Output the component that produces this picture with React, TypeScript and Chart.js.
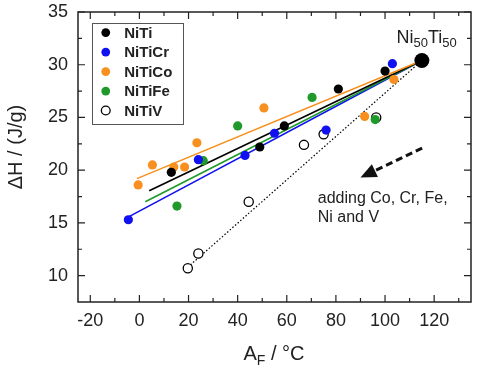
import React, { useEffect, useRef } from "react";
import { Chart, registerables } from "chart.js";
Chart.register(...registerables);

const xTickValues = [-20, 0, 20, 40, 60, 80, 100, 120];
const yTickValues = [10, 15, 20, 25, 30, 35];
const xMinorValues = [-10, 10, 30, 50, 70, 90, 110, 130];
const yMinorValues = [12.5, 17.5, 22.5, 27.5, 32.5];

const seriesNames = ["NiTi", "NiTiCr", "NiTiCo", "NiTiFe", "NiTiV"];
const seriesColors = ["#000000", "#1010f0", "#f7901e", "#1f9a2a", "#000000"];

const niTiX = [13, 49, 59, 81, 100];
const niTiY = [19.8, 22.2, 24.2, 27.7, 29.4];
const niTiCrX = [-4.5, 24, 43, 55, 76, 103];
const niTiCrY = [15.3, 21.0, 21.4, 23.5, 23.8, 30.1];
const niTiCoX = [-0.5, 5.3, 14, 18.4, 23.4, 50.7, 91.7, 103.6];
const niTiCoY = [18.6, 20.5, 20.3, 20.3, 22.6, 25.9, 25.1, 28.6];
const niTiFeX = [15.3, 26, 40, 70.3, 96];
const niTiFeY = [16.6, 20.9, 24.2, 26.9, 24.8];
const niTiVX = [19.7, 24, 44.5, 67, 75, 96.4];
const niTiVY = [10.7, 12.1, 17.0, 22.4, 23.4, 25.0];
const refX = [115];
const refY = [30.4];

// linear fits (start, end)
const fitNiTiX = [4, 115];
const fitNiTiY = [18.05, 30.4];
const fitNiTiCrX = [-5, 115];
const fitNiTiCrY = [15.5, 30.4];
const fitNiTiCoX = [-1, 115];
const fitNiTiCoY = [19.2, 30.4];
const fitNiTiFeX = [2.4, 115];
const fitNiTiFeY = [17.0, 30.4];
const fitNiTiVX = [19.7, 115];
const fitNiTiVY = [10.8, 30.4];

const arrowTail = [115.1, 22.1];
const arrowTip = [90, 19.3];

const FONT = "'Liberation Sans', Arial, Helvetica, sans-serif";
const INK = "#222222";

const pts = (xs: number[], ys: number[]) => xs.map((x, i) => ({ x, y: ys[i] }));

export default function App() {
  const ref = useRef<HTMLCanvasElement | null>(null);
  useEffect(() => {
    if (!ref.current) return;
    const pointDs = (i: number, xs: number[], ys: number[], open = false) => ({
      label: seriesNames[i],
      data: pts(xs, ys),
      showLine: false,
      pointRadius: 4.6,
      pointBorderWidth: open ? 1.3 : 0,
      pointBackgroundColor: open ? "#ffffff" : seriesColors[i],
      pointBorderColor: seriesColors[i],
      order: 0,
    });
    const lineDs = (i: number, xs: number[], ys: number[], dotted = false) => ({
      label: seriesNames[i] + " fit",
      data: pts(xs, ys),
      showLine: true,
      pointRadius: 0,
      borderColor: seriesColors[i],
      borderWidth: dotted ? 1.2 : 1.6,
      borderDash: dotted ? [1.5, 2] : [],
      order: 2,
    });

    const deco = {
      id: "deco",
      afterDraw(chart: any) {
        const ctx = chart.ctx as CanvasRenderingContext2D;
        const a = chart.chartArea;
        const xs = chart.scales.x;
        const ys = chart.scales.y;
        ctx.save();
        // frame
        ctx.strokeStyle = INK;
        ctx.lineWidth = 1.5;
        ctx.strokeRect(a.left, a.top, a.right - a.left, a.bottom - a.top);
        // ticks
        ctx.lineWidth = 1.2;
        ctx.beginPath();
        const tickX = (v: number, len: number) => {
          const px = xs.getPixelForValue(v);
          ctx.moveTo(px, a.bottom);
          ctx.lineTo(px, a.bottom - len);
          ctx.moveTo(px, a.top);
          ctx.lineTo(px, a.top + len);
        };
        const tickY = (v: number, len: number) => {
          const py = ys.getPixelForValue(v);
          ctx.moveTo(a.left, py);
          ctx.lineTo(a.left + len, py);
          ctx.moveTo(a.right, py);
          ctx.lineTo(a.right - len, py);
        };
        xTickValues.forEach((v) => tickX(v, 7));
        xMinorValues.forEach((v) => tickX(v, 4));
        yTickValues.forEach((v) => tickY(v, 7));
        yMinorValues.forEach((v) => tickY(v, 4));
        ctx.stroke();

        // legend
        const lx = xs.getPixelForValue(-19.2);
        const ly = ys.getPixelForValue(34);
        ctx.strokeStyle = "#555";
        ctx.lineWidth = 1;
        ctx.strokeRect(Math.round(lx) + 0.5, Math.round(ly) + 0.5, 91, 101);
        ctx.font = `bold 15px ${FONT}`;
        ctx.textBaseline = "middle";
        ctx.textAlign = "left";
        seriesNames.forEach((n, i) => {
          const cy = ly + 10 + i * 19.5;
          const cx = lx + 13.5;
          ctx.beginPath();
          ctx.arc(cx, cy, 4.4, 0, Math.PI * 2);
          if (i === 4) {
            ctx.fillStyle = "#fff";
            ctx.fill();
            ctx.strokeStyle = "#000";
            ctx.lineWidth = 1.3;
            ctx.stroke();
          } else {
            ctx.fillStyle = seriesColors[i];
            ctx.fill();
          }
          ctx.fillStyle = INK;
          ctx.fillText(n, lx + 32, cy + 1);
        });

        // Ni50Ti50 label
        ctx.fillStyle = INK;
        ctx.textBaseline = "alphabetic";
        let tx = xs.getPixelForValue(104.7);
        const tb = ys.getPixelForValue(32.1);
        const big = `18px ${FONT}`;
        const small = `13px ${FONT}`;
        const parts: [string, boolean][] = [["Ni", false], ["50", true], ["Ti", false], ["50", true]];
        parts.forEach(([s, sub]) => {
          ctx.font = sub ? small : big;
          ctx.fillText(s, tx, sub ? tb + 4 : tb);
          tx += ctx.measureText(s).width;
        });

        // arrow
        const x1 = xs.getPixelForValue(arrowTail[0]);
        const y1 = ys.getPixelForValue(arrowTail[1]);
        const x2 = xs.getPixelForValue(arrowTip[0]);
        const y2 = ys.getPixelForValue(arrowTip[1]);
        const ang = Math.atan2(y2 - y1, x2 - x1);
        const headLen = 16;
        const bx = x2 - headLen * Math.cos(ang);
        const by = y2 - headLen * Math.sin(ang);
        ctx.strokeStyle = "#111";
        ctx.lineWidth = 3;
        ctx.setLineDash([7, 4]);
        ctx.beginPath();
        ctx.moveTo(x1, y1);
        ctx.lineTo(bx, by);
        ctx.stroke();
        ctx.setLineDash([]);
        ctx.fillStyle = "#111";
        ctx.beginPath();
        ctx.moveTo(x2, y2);
        ctx.lineTo(bx + 7 * Math.sin(ang), by - 7 * Math.cos(ang));
        ctx.lineTo(bx - 7 * Math.sin(ang), by + 7 * Math.cos(ang));
        ctx.closePath();
        ctx.fill();

        // annotation text
        ctx.fillStyle = INK;
        ctx.font = `16px ${FONT}`;
        ctx.textBaseline = "middle";
        const ax = xs.getPixelForValue(72.6);
        ctx.fillText("adding Co, Cr, Fe,", ax, ys.getPixelForValue(17.26));
        ctx.fillText("Ni and V", ax, ys.getPixelForValue(15.47));

        // x title
        ctx.textBaseline = "alphabetic";
        ctx.font = `20px ${FONT}`;
        const wA = ctx.measureText("A").width;
        const wRest = ctx.measureText(" / °C").width;
        ctx.font = `14px ${FONT}`;
        const wF = ctx.measureText("F").width;
        let px = 274 - (wA + wF + wRest) / 2;
        const base = 360;
        ctx.font = `20px ${FONT}`;
        ctx.fillText("A", px, base);
        px += wA;
        ctx.font = `14px ${FONT}`;
        ctx.fillText("F", px, base + 5);
        px += wF;
        ctx.font = `20px ${FONT}`;
        ctx.fillText(" / °C", px, base);

        // y title
        ctx.translate(16, 147);
        ctx.rotate(-Math.PI / 2);
        ctx.textAlign = "center";
        ctx.textBaseline = "middle";
        ctx.font = `20px ${FONT}`;
        ctx.fillText("ΔH / (J/g)", 0, 0);
        ctx.restore();
      },
    };

    const chart = new Chart(ref.current, {
      type: "scatter",
      data: {
        datasets: [
          pointDs(0, niTiX, niTiY),
          pointDs(1, niTiCrX, niTiCrY),
          pointDs(2, niTiCoX, niTiCoY),
          pointDs(3, niTiFeX, niTiFeY),
          pointDs(4, niTiVX, niTiVY, true),
          {
            label: "Ni50Ti50",
            data: pts(refX, refY),
            pointRadius: 7.5,
            pointBorderWidth: 0,
            pointBackgroundColor: "#000",
            order: 0,
          } as any,
          lineDs(2, fitNiTiCoX, fitNiTiCoY),
          lineDs(0, fitNiTiX, fitNiTiY),
          lineDs(3, fitNiTiFeX, fitNiTiFeY),
          lineDs(1, fitNiTiCrX, fitNiTiCrY),
          lineDs(4, fitNiTiVX, fitNiTiVY, true),
        ] as any,
      },
      options: {
        responsive: false,
        animation: false,
        layout: { padding: { top: 12, right: 9, left: 0, bottom: 0 } },
        plugins: { legend: { display: false }, tooltip: { enabled: false } },
        scales: {
          x: {
            type: "linear",
            min: -25,
            max: 135,
            grid: { display: false, drawTicks: false },
            border: { display: false },
            afterBuildTicks: (s: any) => {
              s.ticks = xTickValues.map((v) => ({ value: v }));
            },
            afterFit: (s: any) => {
              s.height = 70;
              s.paddingLeft = 0;
              s.paddingRight = 0;
            },
            ticks: {
              color: INK,
              font: { size: 18, family: FONT },
              padding: 8,
              maxRotation: 0,
              autoSkip: false,
            },
          },
          y: {
            type: "linear",
            min: 7.5,
            max: 35,
            grid: { display: false, drawTicks: false },
            border: { display: false },
            afterBuildTicks: (s: any) => {
              s.ticks = yTickValues.map((v) => ({ value: v }));
            },
            afterFit: (s: any) => {
              s.width = 78;
              s.paddingTop = 0;
              s.paddingBottom = 0;
            },
            ticks: {
              color: INK,
              font: { size: 18, family: FONT },
              padding: 10,
              autoSkip: false,
            },
          },
        },
      } as any,
      plugins: [deco],
    });
    return () => chart.destroy();
  }, []);
  return (
    <div style={{ position: "fixed", left: 0, top: 0, width: 480, height: 372, background: "#fff" }}>
      <canvas ref={ref} width={480} height={372} />
    </div>
  );
}
